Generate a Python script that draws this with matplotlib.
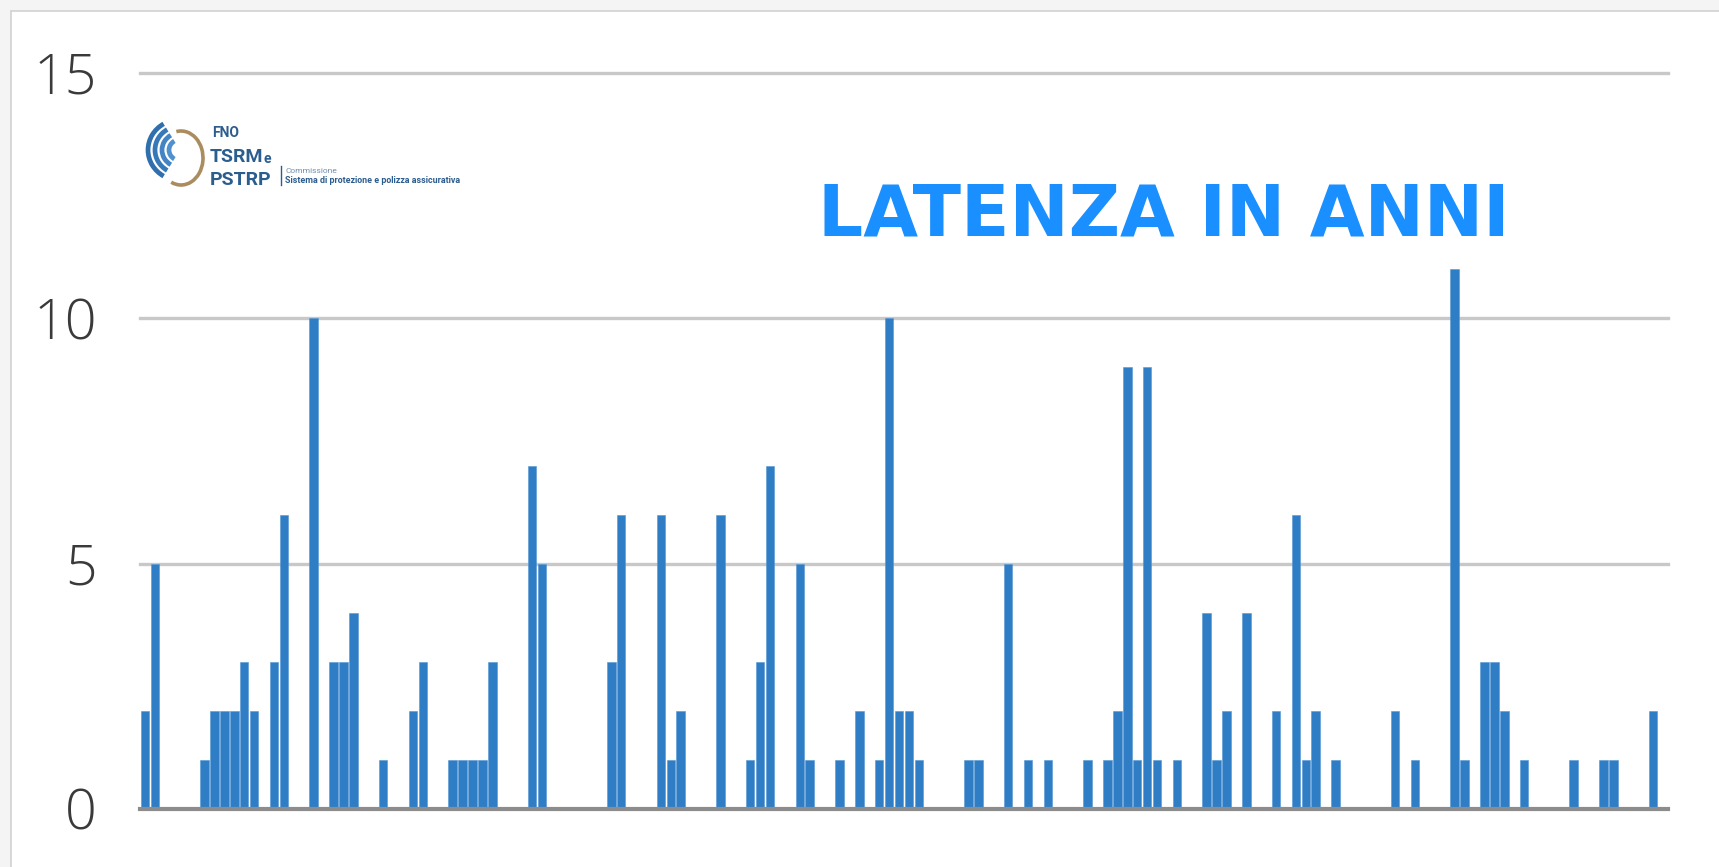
import matplotlib.pyplot as plt
from matplotlib.patches import Arc, Rectangle

W, H = 1719, 867

# latency in years, one bar per case
latenza = [
    2, 5, 0, 0, 0, 0, 1, 2, 2, 2,
    3, 2, 0, 3, 6, 0, 0, 10, 0, 3,
    3, 4, 0, 0, 1, 0, 0, 2, 3, 0,
    0, 1, 1, 1, 1, 3, 0, 0, 0, 7,
    5, 0, 0, 0, 0, 0, 0, 3, 6, 0,
    0, 0, 6, 1, 2, 0, 0, 0, 6, 0,
    0, 1, 3, 7, 0, 0, 5, 1, 0, 0,
    1, 0, 2, 0, 1, 10, 2, 2, 1, 0,
    0, 0, 0, 1, 1, 0, 0, 5, 0, 1,
    0, 1, 0, 0, 0, 1, 0, 1, 2, 9,
    1, 9, 1, 0, 1, 0, 0, 4, 1, 2,
    0, 4, 0, 0, 2, 0, 6, 1, 2, 0,
    1, 0, 0, 0, 0, 0, 2, 0, 1, 0,
    0, 0, 11, 1, 0, 3, 3, 2, 0, 1,
    0, 0, 0, 0, 1, 0, 0, 1, 1, 0,
    0, 0, 2,
]
y_ticks = [0, 5, 10, 15]
title = "LATENZA IN ANNI"


def fx(px):
    return px / W


def fy(py):
    return 1 - py / H


fig = plt.figure(figsize=(W / 100, H / 100), dpi=100, facecolor="#f4f4f4")

# white card with a thin frame on top and left
fig.patches.append(Rectangle((fx(11), -0.05), 1.0, fy(11) + 0.05, transform=fig.transFigure,
                             facecolor="white", edgecolor="#d2d2d2", linewidth=1.2, zorder=-5))

ax = fig.add_axes([fx(140), fy(809), fx(1668) - fx(140), fy(73) - fy(809)])
ax.set_facecolor("none")

x = list(range(len(latenza)))
ax.bar(x, latenza, width=0.86, color="#2F7EC5", edgecolor="#5596D3", linewidth=0.4, zorder=3)

for t in y_ticks[1:]:
    ax.axhline(t, color="#c8c8c8", linewidth=2.4, zorder=1, clip_on=False)
ax.axhline(0, color="#8c8c8c", linewidth=3, zorder=4, clip_on=False)

ax.set_xlim(-0.5, 153.5)
ax.set_ylim(0, 15)
ax.set_xticks([])
ax.set_yticks(y_ticks)
ax.tick_params(axis="y", length=0, pad=31, labelsize=40, labelcolor="#3a3a3a")
for lbl in ax.get_yticklabels():
    lbl.set_fontfamily("Open Sans")
    lbl.set_fontweight("light")
for s in ax.spines.values():
    s.set_visible(False)

# title
fig.text(fx(1164), fy(236), title, ha="center", va="baseline", fontsize=51,
         fontfamily="DejaVu Sans", fontweight="bold", color="#1A8FFF")

# logo, drawn in pixel coordinates
lg = fig.add_axes([0, 0, 1, 1], zorder=5)
lg.set_xlim(0, W)
lg.set_ylim(H, 0)
lg.axis("off")

for r, c in [(32, "#2f6fae"), (25, "#3778b8"), (18, "#4384c4"), (11, "#4f90cf")]:
    lg.add_patch(Arc((180, 150), 2 * r, 2 * r * 0.95, theta1=122, theta2=238,
                     color=c, linewidth=3.4))
lg.add_patch(Arc((181, 158), 44, 54, theta1=-100, theta2=112, color="#ab8c5e", linewidth=2.6))

blue = "#2c5d8f"
lg.text(212, 137, "FNO", fontsize=10, fontweight="bold", fontfamily="Roboto", color=blue,
        va="baseline", ha="left")
lg.text(210, 162, "TSRM", fontsize=14, fontweight="bold", fontfamily="Roboto", color=blue,
        va="baseline", ha="left")
lg.text(263, 163, "e", fontsize=10, fontweight="bold", fontfamily="Roboto", color=blue,
        va="baseline", ha="left")
lg.text(210, 185, "PSTRP", fontsize=14, fontweight="bold", fontfamily="Roboto", color=blue,
        va="baseline", ha="left")
lg.plot([281, 281], [166, 185], color=blue, linewidth=1)
lg.text(285, 173, "Commissione", fontsize=6, fontfamily="Roboto", color="#6f8fb0",
        va="baseline", ha="left")
lg.text(285, 183, "Sistema di protezione e polizza assicurativa", fontsize=6.4,
        fontweight="bold", fontfamily="Roboto", color=blue, va="baseline", ha="left")

fig.savefig("out.png", dpi=100, facecolor=fig.get_facecolor())
